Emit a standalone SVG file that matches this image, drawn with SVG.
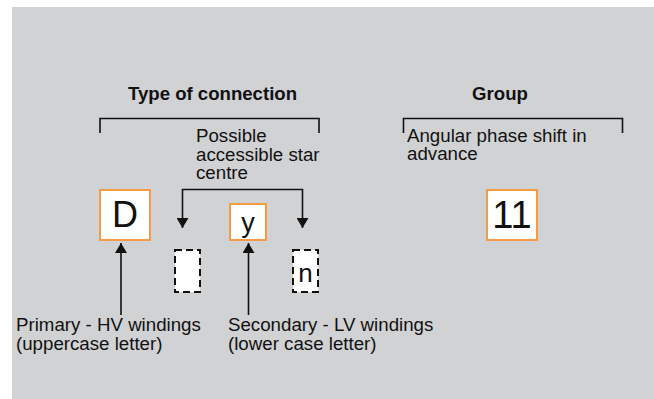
<svg xmlns="http://www.w3.org/2000/svg" width="654" height="399" viewBox="0 0 654 399">
  <defs>
    <style>
      .lbl { font-family: "Liberation Sans", Arial, sans-serif; font-size: 18.7px; fill: #111; }
      .hdr { font-family: "Liberation Sans", Arial, sans-serif; font-size: 18.6px; font-weight: bold; fill: #111; }
      .sym { font-family: "Liberation Sans", Arial, sans-serif; fill: #111; text-anchor: middle; }
      .box { fill: #fff; stroke: #f59a45; stroke-width: 2; }
      .opt { fill: #fff; stroke: #111; stroke-width: 2; stroke-dasharray: 7 4; }
      .wire { fill: none; stroke: #111; stroke-width: 1.6; }
    </style>
    <marker id="arrow" viewBox="0 0 10 12" refX="10" refY="6" markerWidth="10" markerHeight="12" markerUnits="userSpaceOnUse" orient="auto-start-reverse">
      <path d="M0,0 L10,6 L0,12 Z" fill="#111"/>
    </marker>
  </defs>

  <!-- panel background -->
  <rect x="12" y="7" width="642" height="392" fill="#d1d2d4"/>

  <!-- headings with brackets -->
  <g id="type-of-connection">
    <text class="hdr" x="212.5" y="100" text-anchor="middle">Type of connection</text>
    <path class="wire" d="M100,133 V118.5 H319 V133"/>
  </g>
  <g id="group">
    <text class="hdr" x="500" y="100" text-anchor="middle">Group</text>
    <path class="wire" d="M403.5,133 V118.5 H622.5 V133"/>
    <text class="lbl" x="407" y="141.5">Angular phase shift in</text>
    <text class="lbl" x="407" y="160">advance</text>
  </g>

  <g id="star-centre-note">
    <text class="lbl" x="196" y="142">Possible</text>
    <text class="lbl" x="196" y="161">accessible star</text>
    <text class="lbl" x="196" y="179">centre</text>
  </g>

  <!-- symbol boxes -->
  <g id="node-D">
    <rect class="box" x="100" y="190" width="50" height="50"/>
    <text class="sym" x="125" y="227" font-size="36">D</text>
  </g>
  <g id="node-y">
    <rect class="box" x="230" y="204" width="36" height="36"/>
    <text class="sym" x="248" y="232" font-size="27">y</text>
  </g>
  <g id="node-star-empty">
    <rect class="opt" x="175" y="250" width="25" height="42"/>
  </g>
  <g id="node-n">
    <rect class="opt" x="293" y="250" width="25" height="42"/>
    <text class="sym" x="305.5" y="282" font-size="26">n</text>
  </g>
  <g id="node-11">
    <rect class="box" x="487" y="190" width="50" height="50"/>
    <text class="sym" x="512" y="228" font-size="38">11</text>
  </g>

  <g id="winding-labels">
    <text class="lbl" x="16" y="331">Primary - HV windings</text>
    <text class="lbl" x="16" y="350">(uppercase letter)</text>
    <text class="lbl" x="228" y="331">Secondary - LV windings</text>
    <text class="lbl" x="228" y="350">(lower case letter)</text>
  </g>

  <!-- connectors -->
  <g id="connectors">
    <path class="wire" d="M182.5,228 V189.5 H302.5 V228" marker-start="url(#arrow)" marker-end="url(#arrow)"/>
    <path class="wire" d="M121,315 V243" marker-end="url(#arrow)"/>
    <path class="wire" d="M248.5,315 V243" marker-end="url(#arrow)"/>
  </g>
</svg>
